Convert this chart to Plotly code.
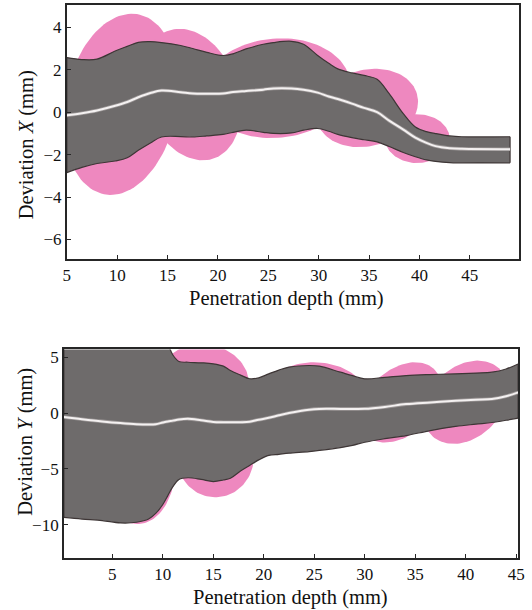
import numpy as np
import plotly.graph_objects as go

# ---------------- data: top panel (Deviation X) ----------------
x_top = [5, 6.5, 8, 9.8, 11, 12.1, 13.3, 14.4, 16.3, 17.5, 18.9, 20.5, 21.5, 22.8, 24.5, 25.5,
         27.3, 28.5, 29.9, 31, 31.9, 33.3, 34.5, 35.8, 37, 38.4, 39.6, 40.7, 41.6, 43, 44.2, 49]
upper_top = [2.57, 2.48, 2.5, 2.88, 3.1, 3.29, 3.32, 3.28, 3.14, 3.0, 2.82, 2.67, 2.75, 2.98, 3.2, 3.28,
             3.34, 3.2, 2.67, 2.3, 2.04, 1.85, 1.73, 1.55, 0.87, -0.07, -0.7, -0.92, -1.01, -1.12, -1.16, -1.16]
lower_top = [-2.85, -2.6, -2.42, -2.3, -2.15, -1.8, -1.45, -1.17, -1.15, -1.17, -1.12, -1.05, -0.95, -0.85, -0.95, -1.0,
             -0.98, -0.85, -0.77, -0.9, -1.05, -1.2, -1.3, -1.4, -1.62, -1.9, -2.1, -2.25, -2.32, -2.38, -2.39, -2.39]
mean_top = [-0.15, -0.05, 0.08, 0.3, 0.48, 0.7, 0.9, 1.02, 0.94, 0.88, 0.87, 0.88, 0.95, 1.0, 1.06, 1.12,
            1.12, 1.06, 0.92, 0.74, 0.62, 0.4, 0.2, 0.0, -0.4, -0.82, -1.2, -1.45, -1.6, -1.7, -1.73, -1.75]
# confidence ellipses: centre x, centre y, half-width, half-height, x-offset of top point
ell_top_cx = [10.4, 17.35, 25.8, 34.8, 39.8]
ell_top_cy = [0.37, 0.83, 1.13, 0.2, -1.25]
ell_top_rx = [5.6, 4.8, 7.3, 5.0, 3.2]
ell_top_ry = [4.27, 3.1, 2.35, 1.85, 1.15]
ell_top_sx = [1.05, -1.15, 0.5, 0.8, 0.0]

# ---------------- data: bottom panel (Deviation Y) ----------------
x_bot = [0.2, 2, 4, 5.8, 7.4, 8.6, 9.3, 10, 10.5, 11, 11.6, 12.5, 13.8, 15, 16, 16.7, 17.7, 18.6,
         19.5, 20.5, 21.5, 22.5, 24.5, 25.5, 27.6, 28.8, 30, 32, 34.1, 36.5, 39, 41, 42.6, 44, 45.2]
upper_bot = [7, 7, 7, 7, 7, 7, 7, 7, 6.2, 5.2, 4.62, 4.55, 4.5, 4.41, 4.2, 3.81, 3.4, 3.07,
             3.15, 3.51, 3.85, 4.11, 4.26, 4.2, 3.66, 3.35, 3.07, 3.2, 3.36, 3.45, 3.51, 3.58, 3.66, 3.95, 4.4]
lower_bot = [-9.35, -9.5, -9.64, -9.85, -9.79, -9.5, -9.0, -8.2, -7.4, -6.6, -5.95, -5.8, -5.95, -6.14, -6.0, -5.85, -5.2, -4.7,
             -4.2, -3.8, -3.7, -3.6, -3.45, -3.35, -3.1, -2.9, -2.62, -2.3, -2.02, -1.57, -1.2, -1.0, -0.85, -0.65, -0.45]
mean_bot = [-0.35, -0.55, -0.75, -0.9, -1.0, -1.03, -1.0, -0.85, -0.75, -0.68, -0.58, -0.52, -0.65, -0.8, -0.82, -0.82, -0.82, -0.78,
            -0.6, -0.43, -0.2, 0.0, 0.3, 0.37, 0.37, 0.37, 0.38, 0.55, 0.8, 0.95, 1.1, 1.2, 1.25, 1.5, 1.85]
ell_bot_cx = [14.2, 25.0, 33.5, 40.0, 15.2, 7.5]
ell_bot_cy = [3.0, 1.2, 0.95, 0.97, -4.0, -5.0]
ell_bot_rx = [4.3, 5.3, 3.8, 4.0, 3.8, 3.7]
ell_bot_ry = [3.2, 3.35, 3.6, 3.73, 3.55, 4.95]
ell_bot_sx = [-0.4, 0.0, 1.5, 1.2, 0.0, 0.0]

x_ticks_top = [5, 10, 15, 20, 25, 30, 35, 40, 45]
y_ticks_top = [-6, -4, -2, 0, 2, 4]
x_ticks_bot = [5, 10, 15, 20, 25, 30, 35, 40, 45]
y_ticks_bot = [-10, -5, 0, 5]

PINK = "#EE88BF"
GRAY = "#6E6B6B"
EDGE = "#3E3636"
FONT = "Liberation Serif, Times New Roman, serif"

fig = go.Figure()
t = np.linspace(0, 2 * np.pi, 120)


def add_panel(xs, up, lo, mid, cx, cy, rx, ry, sx, xa, ya):
    for i in range(len(cx)):
        ex = cx[i] + rx[i] * np.cos(t) + sx[i] * np.sin(t)
        ey = cy[i] + ry[i] * np.sin(t)
        fig.add_trace(go.Scatter(x=ex, y=ey, mode="lines", fill="toself", fillcolor=PINK,
                                 line=dict(width=0, color=PINK), xaxis=xa, yaxis=ya,
                                 hoverinfo="skip", showlegend=False))
    fig.add_trace(go.Scatter(x=xs, y=lo, mode="lines", line=dict(color=EDGE, width=1.2, shape="spline"),
                             xaxis=xa, yaxis=ya, showlegend=False))
    fig.add_trace(go.Scatter(x=xs, y=up, mode="lines", fill="tonexty", fillcolor=GRAY,
                             line=dict(color=EDGE, width=1.2, shape="spline"),
                             xaxis=xa, yaxis=ya, showlegend=False))
    # closing edges of the band
    fig.add_trace(go.Scatter(x=[xs[0], xs[0], None, xs[-1], xs[-1]],
                             y=[lo[0], up[0], None, lo[-1], up[-1]], mode="lines",
                             line=dict(color=EDGE, width=1.2), xaxis=xa, yaxis=ya, showlegend=False))
    fig.add_trace(go.Scatter(x=xs, y=mid, mode="lines", line=dict(color="#9A9595", width=3.6, shape="spline"),
                             xaxis=xa, yaxis=ya, showlegend=False))
    fig.add_trace(go.Scatter(x=xs, y=mid, mode="lines", line=dict(color="#F4F1F1", width=2.0, shape="spline"),
                             xaxis=xa, yaxis=ya, showlegend=False))


add_panel(x_top, upper_top, lower_top, mean_top, ell_top_cx, ell_top_cy, ell_top_rx, ell_top_ry, ell_top_sx, "x", "y")
add_panel(x_bot, upper_bot, lower_bot, mean_bot, ell_bot_cx, ell_bot_cy, ell_bot_rx, ell_bot_ry, ell_bot_sx, "x2", "y2")

W, H = 532, 610
axis_common = dict(showline=True, mirror=True, linecolor="#262626", linewidth=1.6, ticks="inside",
                   ticklen=4, tickwidth=1.2, tickcolor="#262626", showgrid=False, zeroline=False,
                   tickfont=dict(family=FONT, size=17, color="#111"))

title_font = dict(family=FONT, size=20.5, color="#111")
fig.update_layout(
    width=W, height=H, margin=dict(l=0, r=0, t=0, b=0),
    paper_bgcolor="white", plot_bgcolor="white",
    xaxis=dict(domain=[64 / W, 525 / W], range=[5, 49.9], tickvals=x_ticks_top, anchor="y", **axis_common),
    yaxis=dict(domain=[1 - 258 / H, 1 - 4 / H], range=[-6.9, 5.05], tickvals=y_ticks_top, anchor="x", **axis_common),
    xaxis2=dict(domain=[61 / W, 524 / W], range=[0.2, 45.2], tickvals=x_ticks_bot, anchor="y2", **axis_common),
    yaxis2=dict(domain=[1 - 558 / H, 1 - 349 / H], range=[-13.0, 5.7], tickvals=y_ticks_bot, anchor="x2", **axis_common),
    annotations=[
        dict(text="Penetration depth (mm)", x=288 / W, y=1 - 298 / H, xref="paper", yref="paper",
             showarrow=False, font=title_font, xanchor="center", yanchor="middle"),
        dict(text="Penetration depth (mm)", x=292 / W, y=1 - 597 / H, xref="paper", yref="paper",
             showarrow=False, font=title_font, xanchor="center", yanchor="middle"),
        dict(text="Deviation <i>X</i> (mm)", x=23 / W, y=1 - 144 / H, xref="paper", yref="paper",
             showarrow=False, textangle=-90, font=title_font, xanchor="center", yanchor="middle"),
        dict(text="Deviation <i>Y</i> (mm)", x=22 / W, y=1 - 442 / H, xref="paper", yref="paper",
             showarrow=False, textangle=-90, font=title_font, xanchor="center", yanchor="middle"),
    ],
)

fig.write_html("out.html")
